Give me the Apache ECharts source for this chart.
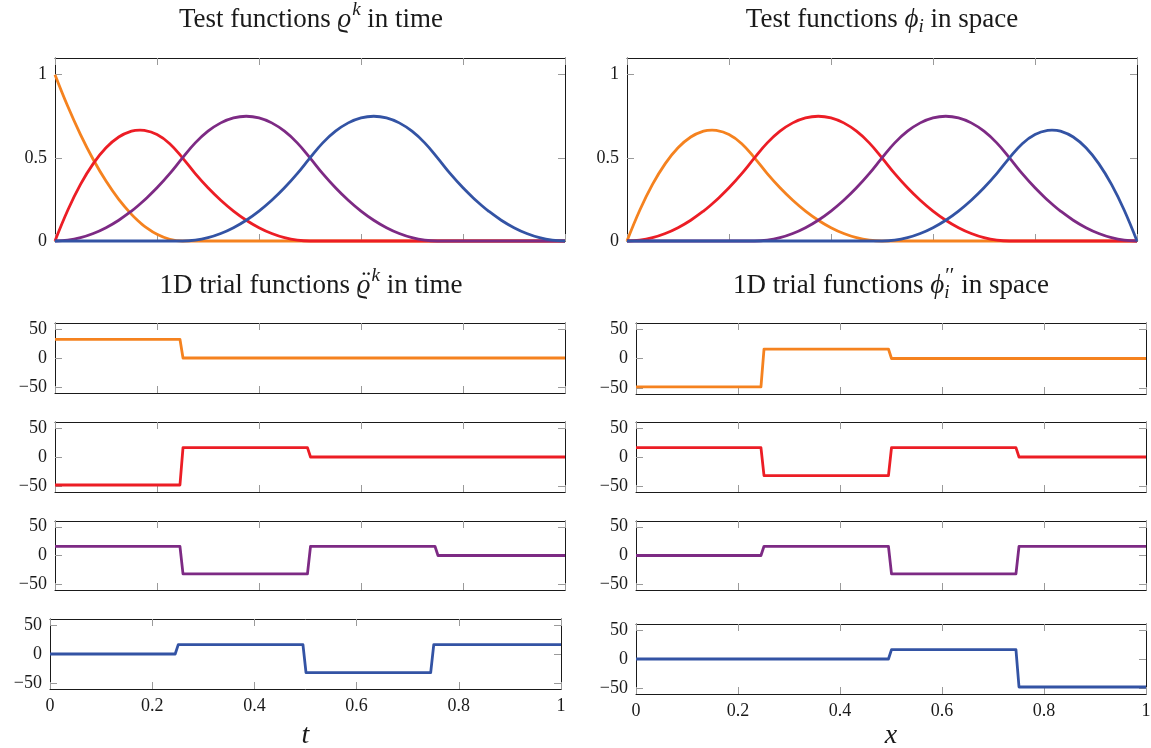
<!DOCTYPE html>
<html>
<head>
<meta charset="utf-8">
<script src="https://cdn.jsdelivr.net/npm/echarts@6/dist/echarts.min.js"></script>
<style>
  html, body { margin: 0; padding: 0; background: #fff; }
  #chart { width: 1151px; height: 748px; }
</style>
</head>
<body>
<div id="chart"></div>
<script>
// Sample positions for the smooth basis functions (peaks at 1/6 and 5/6 included)
const xs = [0, 0.025, 0.05, 0.075, 0.1, 0.125, 0.15, 0.1667, 0.175, 0.2,
            0.225, 0.25, 0.275, 0.3, 0.325, 0.35, 0.375, 0.4, 0.425, 0.45,
            0.475, 0.5, 0.525, 0.55, 0.575, 0.6, 0.625, 0.65, 0.675, 0.7,
            0.725, 0.75, 0.775, 0.8, 0.825, 0.8333, 0.85, 0.875, 0.9, 0.925,
            0.95, 0.975, 1];

// Test functions in time
const rho0 = [1, 0.81, 0.64, 0.49, 0.36, 0.25, 0.16, 0.111, 0.09, 0.04,
              0.01, 0, 0, 0, 0, 0, 0, 0, 0, 0,
              0, 0, 0, 0, 0, 0, 0, 0, 0, 0,
              0, 0, 0, 0, 0, 0, 0, 0, 0, 0,
              0, 0, 0];
const rho1 = [0, 0.185, 0.34, 0.465, 0.56, 0.625, 0.66, 0.6667, 0.665, 0.64,
              0.585, 0.5, 0.405, 0.32, 0.245, 0.18, 0.125, 0.08, 0.045, 0.02,
              0.005, 0, 0, 0, 0, 0, 0, 0, 0, 0,
              0, 0, 0, 0, 0, 0, 0, 0, 0, 0,
              0, 0, 0];
const rho2 = [0, 0.005, 0.02, 0.045, 0.08, 0.125, 0.18, 0.2222, 0.245, 0.32,
              0.405, 0.5, 0.59, 0.66, 0.71, 0.74, 0.75, 0.74, 0.71, 0.66,
              0.59, 0.5, 0.405, 0.32, 0.245, 0.18, 0.125, 0.08, 0.045, 0.02,
              0.005, 0, 0, 0, 0, 0, 0, 0, 0, 0,
              0, 0, 0];
const rho3 = [0, 0, 0, 0, 0, 0, 0, 0, 0, 0,
              0, 0, 0.005, 0.02, 0.045, 0.08, 0.125, 0.18, 0.245, 0.32,
              0.405, 0.5, 0.59, 0.66, 0.71, 0.74, 0.75, 0.74, 0.71, 0.66,
              0.59, 0.5, 0.405, 0.32, 0.245, 0.2222, 0.18, 0.125, 0.08, 0.045,
              0.02, 0.005, 0];

// Test functions in space
const phi1 = [0, 0.185, 0.34, 0.465, 0.56, 0.625, 0.66, 0.6667, 0.665, 0.64,
              0.585, 0.5, 0.405, 0.32, 0.245, 0.18, 0.125, 0.08, 0.045, 0.02,
              0.005, 0, 0, 0, 0, 0, 0, 0, 0, 0,
              0, 0, 0, 0, 0, 0, 0, 0, 0, 0,
              0, 0, 0];
const phi2 = [0, 0.005, 0.02, 0.045, 0.08, 0.125, 0.18, 0.2222, 0.245, 0.32,
              0.405, 0.5, 0.59, 0.66, 0.71, 0.74, 0.75, 0.74, 0.71, 0.66,
              0.59, 0.5, 0.405, 0.32, 0.245, 0.18, 0.125, 0.08, 0.045, 0.02,
              0.005, 0, 0, 0, 0, 0, 0, 0, 0, 0,
              0, 0, 0];
const phi3 = [0, 0, 0, 0, 0, 0, 0, 0, 0, 0,
              0, 0, 0.005, 0.02, 0.045, 0.08, 0.125, 0.18, 0.245, 0.32,
              0.405, 0.5, 0.59, 0.66, 0.71, 0.74, 0.75, 0.74, 0.71, 0.66,
              0.59, 0.5, 0.405, 0.32, 0.245, 0.2222, 0.18, 0.125, 0.08, 0.045,
              0.02, 0.005, 0];
const phi4 = [0, 0, 0, 0, 0, 0, 0, 0, 0, 0,
              0, 0, 0, 0, 0, 0, 0, 0, 0, 0,
              0, 0, 0.005, 0.02, 0.045, 0.08, 0.125, 0.18, 0.245, 0.32,
              0.405, 0.5, 0.585, 0.64, 0.665, 0.6667, 0.66, 0.625, 0.56, 0.465,
              0.34, 0.185, 0];

// Second derivatives (piecewise constant), as [x, value] points
const rhoDD0 = [[0, 32], [0.245, 32], [0.251, 0], [1, 0]];
const rhoDD1 = [[0, -48], [0.245, -48], [0.251, 16], [0.495, 16], [0.501, 0], [1, 0]];
const rhoDD2 = [[0, 16], [0.245, 16], [0.251, -32], [0.495, -32], [0.501, 16], [0.745, 16], [0.751, 0], [1, 0]];
const rhoDD3 = [[0, 0], [0.245, 0], [0.251, 16], [0.495, 16], [0.501, -32], [0.745, -32], [0.751, 16], [1, 16]];
const phiDD1 = [[0, -48], [0.245, -48], [0.251, 16], [0.495, 16], [0.501, 0], [1, 0]];
const phiDD2 = [[0, 16], [0.245, 16], [0.251, -32], [0.495, -32], [0.501, 16], [0.745, 16], [0.751, 0], [1, 0]];
const phiDD3 = [[0, 0], [0.245, 0], [0.251, 16], [0.495, 16], [0.501, -32], [0.745, -32], [0.751, 16], [1, 16]];
const phiDD4 = [[0, 0], [0.495, 0], [0.501, 16], [0.745, 16], [0.751, -48], [1, -48]];

// Tick values
const yTicksTest = [0, 0.5, 1];
const yTicksTrial = [-50, 0, 50];

const ORANGE = '#F5821F';
const RED = '#EC1D25';
const PURPLE = '#7D2A84';
const BLUE = '#3353A4';

const SERIF = '"Liberation Serif", "DejaVu Serif", serif';
const INK = '#1a1a1a';

const pair = ys => xs.map((x, i) => [x, ys[i]]);

const panels = [
  { box: { left: 55, top: 58, width: 510, height: 183 }, ymin: 0, ymax: 1.1, yt: yTicksTest, smooth: true,
    lines: [[pair(rho0), ORANGE], [pair(rho1), RED], [pair(rho2), PURPLE], [pair(rho3), BLUE]] },
  { box: { left: 627, top: 58, width: 510, height: 183 }, ymin: 0, ymax: 1.1, yt: yTicksTest, smooth: true,
    lines: [[pair(phi1), ORANGE], [pair(phi2), RED], [pair(phi3), PURPLE], [pair(phi4), BLUE]] },
  { box: { left: 55, top: 323, width: 510, height: 70 }, ymin: -60, ymax: 60, yt: yTicksTrial, lines: [[rhoDD0, ORANGE]] },
  { box: { left: 55, top: 422, width: 510, height: 70 }, ymin: -60, ymax: 60, yt: yTicksTrial, lines: [[rhoDD1, RED]] },
  { box: { left: 55, top: 521, width: 510, height: 69 }, ymin: -60, ymax: 60, yt: yTicksTrial, lines: [[rhoDD2, PURPLE]] },
  { box: { left: 50, top: 619, width: 511, height: 70 }, ymin: -60, ymax: 60, yt: yTicksTrial, lines: [[rhoDD3, BLUE]],
    xLabels: true, xName: 't', nameGap: 33 },
  { box: { left: 636, top: 323, width: 510, height: 71 }, ymin: -60, ymax: 60, yt: yTicksTrial, lines: [[phiDD1, ORANGE]] },
  { box: { left: 636, top: 422, width: 510, height: 70 }, ymin: -60, ymax: 60, yt: yTicksTrial, lines: [[phiDD2, RED]] },
  { box: { left: 636, top: 521, width: 510, height: 69 }, ymin: -60, ymax: 60, yt: yTicksTrial, lines: [[phiDD3, PURPLE]] },
  { box: { left: 636, top: 624, width: 510, height: 70 }, ymin: -60, ymax: 60, yt: yTicksTrial, lines: [[phiDD4, BLUE]],
    xLabels: true, xName: 'x', nameGap: 28 }
];

const fmt = v => (v < 0 ? '\u2212' + Math.abs(v) : String(v));
const boxLine = { show: true, onZero: false, lineStyle: { color: INK, width: 1 } };
const tickStyle = { color: '#9a9a9a', width: 1 };

const grid = [], xAxis = [], yAxis = [], series = [];
panels.forEach((p, gi) => {
  grid.push(Object.assign({ containLabel: false, outerBoundsMode: 'none' }, p.box));
  const xi = xAxis.length;
  const common = { type: 'value', gridIndex: gi, min: 0, max: 1, interval: 0.2, splitLine: { show: false },
                   axisLine: boxLine };
  xAxis.push(Object.assign({}, common, {
    position: 'bottom',
    axisTick: { show: true, inside: true, length: 7, lineStyle: tickStyle },
    axisLabel: { show: !!p.xLabels, fontFamily: SERIF, fontSize: 18, color: INK, margin: 8, formatter: fmt },
    name: p.xName || '', nameLocation: 'middle', nameGap: p.nameGap || 30,
    nameTextStyle: { fontFamily: SERIF, fontStyle: 'italic', fontSize: 28, color: INK }
  }));
  xAxis.push(Object.assign({}, common, {
    position: 'top',
    axisTick: { show: true, inside: true, length: 7, lineStyle: tickStyle },
    axisLabel: { show: false }
  }));
  const yi = yAxis.length;
  const ycommon = { type: 'value', gridIndex: gi, min: p.ymin, max: p.ymax, splitLine: { show: false },
                    axisLine: boxLine };
  yAxis.push(Object.assign({}, ycommon, {
    position: 'left',
    axisTick: { show: true, inside: true, length: 7, lineStyle: tickStyle, customValues: p.yt },
    axisLabel: { show: true, fontFamily: SERIF, fontSize: 18, color: INK, margin: 8, formatter: fmt, customValues: p.yt }
  }));
  yAxis.push(Object.assign({}, ycommon, {
    position: 'right',
    axisTick: { show: true, inside: true, length: 7, lineStyle: tickStyle, customValues: p.yt },
    axisLabel: { show: false }
  }));
  p.lines.forEach(([data, color]) => {
    series.push({
      type: 'line', xAxisIndex: xi, yAxisIndex: yi, data: data,
      smooth: p.smooth ? 0.4 : false, showSymbol: false, symbol: 'none', clip: false,
      lineStyle: { color: color, width: 2.8, join: 'round', cap: 'butt' },
      silent: true, animation: false
    });
  });
});

// Panel headings with small math pieces laid out by hand
const measureCtx = document.createElement('canvas').getContext('2d');
function textWidth(t, size, it) {
  measureCtx.font = (it ? 'italic ' : '') + size + 'px ' + SERIF;
  return measureCtx.measureText(t).width;
}
function textEl(t, x, y, size, it, align) {
  return {
    type: 'text', x: x, y: y, silent: true,
    style: { text: t, fontSize: size, fontStyle: it ? 'italic' : 'normal', fontFamily: SERIF, fill: INK,
             align: align || 'left', textAlign: align || 'left', verticalAlign: 'middle', textVerticalAlign: 'middle' }
  };
}
function heading(parts, cx, cy) {
  const out = [];
  let total = 0;
  parts.forEach(p => {
    p.adv = textWidth(p.t, p.size, p.it) + (p.pad || 0);
    if (p.sup) p.adv = Math.max(p.adv, textWidth(p.sup.t, p.sup.size, p.sup.it) + (p.sup.dx || 0));
    total += p.adv;
  });
  let x = cx - total / 2;
  parts.forEach(p => {
    out.push(textEl(p.t, x + (p.dx || 0), cy + (p.dy || 0), p.size, p.it));
    if (p.sup) out.push(textEl(p.sup.t, x + (p.sup.dx || 0), cy + p.sup.dy, p.sup.size, p.sup.it));
    if (p.acc) out.push(textEl(p.acc.t, x + p.adv / 2 + (p.acc.dx || 0), cy + p.acc.dy, p.acc.size, false, 'center'));
    x += p.adv;
  });
  return out;
}
const B = 27, S = 19;
const graphics = [].concat(
  heading([
    { t: 'Test functions ', size: B },
    { t: '\u03F1', size: B, it: true, pad: 1 },
    { t: 'k', size: S, it: true, dy: -10 },
    { t: ' in time', size: B }
  ], 311, 20),
  heading([
    { t: 'Test functions ', size: B },
    { t: '\u03D5', size: B, it: true },
    { t: 'i', size: S, it: true, dy: 7 },
    { t: ' in space', size: B }
  ], 882, 20),
  heading([
    { t: '1D trial functions ', size: B },
    { t: '\u03F1', size: B, it: true, pad: 1, acc: { t: '\u00A8', size: B, dy: -3, dx: 2 } },
    { t: 'k', size: S, it: true, dy: -10 },
    { t: ' in time', size: B }
  ], 311, 286),
  heading([
    { t: '1D trial functions ', size: B },
    { t: '\u03D5', size: B, it: true },
    { t: 'i', size: S, it: true, dy: 7, sup: { t: '\u2032\u2032', size: S + 2, dy: -10, dx: 1 } },
    { t: ' in space', size: B }
  ], 891, 286)
);

const chart = echarts.init(document.getElementById('chart'), null, { renderer: 'canvas' });
chart.setOption({
  animation: false,
  backgroundColor: '#ffffff',
  grid: grid,
  xAxis: xAxis,
  yAxis: yAxis,
  series: series,
  graphic: graphics
});
</script>
</body>
</html>
